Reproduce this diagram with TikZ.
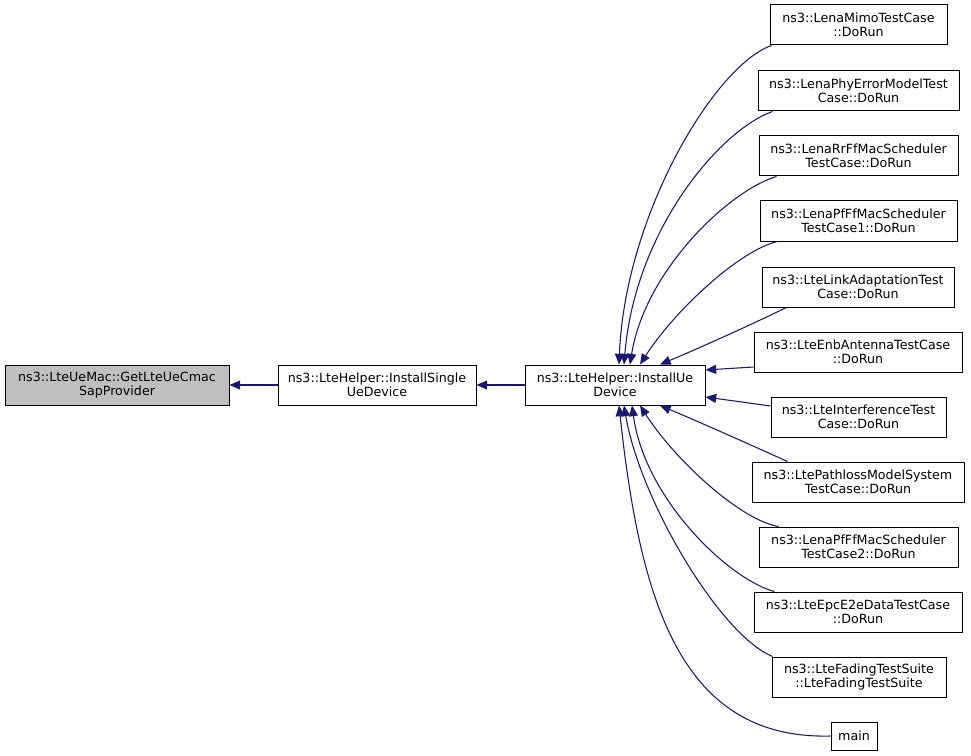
\documentclass[tikz,border=0pt]{standalone}
\usepackage{fontspec}
\setmainfont{DejaVu Sans}
\usetikzlibrary{arrows.meta,calc}
\definecolor{edgeblue}{HTML}{191970}
\definecolor{nodegray}{HTML}{BFBFBF}
\begin{document}
\begin{tikzpicture}[x=0.75pt,y=-0.75pt,
  fn/.style={draw=black,line width=0.75pt,fill=white,rectangle,inner sep=0pt,
    minimum height=30pt,align=center,font=\fontsize{9.5pt}{10.5pt}\selectfont},
  cur/.style={fn,fill=nodegray},
  edge/.style={draw=edgeblue,line width=0.8pt,-{Triangle[length=8pt,width=6.75pt]}}]
\useasboundingbox (0,0) rectangle (971,756);
% nodes
\node[cur,minimum width=168pt] (cmac) at (117,385) {ns3::LteUeMac::GetLteUeCmac\\SapProvider};
\node[fn,minimum width=148.5pt] (single) at (377,385) {ns3::LteHelper::InstallSingle\\UeDevice};
\node[fn,minimum width=135pt] (ue) at (615,385) {ns3::LteHelper::InstallUe\\Device};
\node[fn,minimum width=132.75pt] (mimo) at (858.5,25) {ns3::LenaMimoTestCase\\::DoRun};
\node[fn,minimum width=150.75pt] (phy) at (858.5,91) {ns3::LenaPhyErrorModelTest\\Case::DoRun};
\node[fn,minimum width=149.25pt] (rr) at (858.5,156) {ns3::LenaRrFfMacScheduler\\TestCase::DoRun};
\node[fn,minimum width=147.75pt] (pf1) at (858.5,221) {ns3::LenaPfFfMacScheduler\\TestCase1::DoRun};
\node[fn,minimum width=144pt] (link) at (858,287) {ns3::LteLinkAdaptationTest\\Case::DoRun};
\node[fn,minimum width=156pt] (enb) at (858,352) {ns3::LteEnbAntennaTestCase\\::DoRun};
\node[fn,minimum width=131.25pt] (intf) at (858.5,417) {ns3::LteInterferenceTest\\Case::DoRun};
\node[fn,minimum width=159pt] (path) at (858,482) {ns3::LtePathlossModelSystem\\TestCase::DoRun};
\node[fn,minimum width=149.25pt] (pf2) at (858.5,547) {ns3::LenaPfFfMacScheduler\\TestCase2::DoRun};
\node[fn,minimum width=156pt] (epc) at (858,612) {ns3::LteEpcE2eDataTestCase\\::DoRun};
\node[fn,minimum width=130.5pt] (fad) at (859,677) {ns3::LteFadingTestSuite\\::LteFadingTestSuite};
\node[fn,minimum width=34.5pt,minimum height=21pt] (main) at (854,736) {main};
% edges
\draw[edge] (single.west) -- (cmac.east);
\draw[edge] (ue.west) -- (single.east);
\draw[edge] ($(mimo.south west)+(2,0)$) .. controls (715,65) and (625,215) .. ($(ue.north)+(4,0)$);
\draw[edge] ($(phy.south west)+(15,0)$) .. controls (720,130) and (635,230) .. ($(ue.north)+(9,0)$);
\draw[edge] ($(rr.south west)+(18,0)$) .. controls (730,190) and (645,270) .. ($(ue.north)+(15,0)$);
\draw[edge] ($(pf1.south west)+(18,0)$) .. controls (740,250) and (675,310) .. ($(ue.north)+(25,0)$);
\draw[edge] ($(link.south west)+(25,0)$) .. controls (740,330) and (690,352) .. ($(ue.north)+(45,0)$);
\draw[edge] ($(enb.west)+(0,15)$) -- ($(ue.east)+(0,-15)$);
\draw[edge] ($(intf.west)+(0,-11)$) -- ($(ue.east)+(0,12)$);
\draw[edge] ($(path.north west)+(36,0)$) .. controls (740,440) and (690,418) .. ($(ue.south)+(45,0)$);
\draw[edge] ($(pf2.north west)+(20,0)$) .. controls (740,520) and (675,460) .. ($(ue.south)+(25,0)$);
\draw[edge] ($(epc.north west)+(21,0)$) .. controls (730,580) and (645,500) .. ($(ue.south)+(17,0)$);
\draw[edge] ($(fad.north west)+(1,0)$) .. controls (720,635) and (640,500) .. ($(ue.south)+(9,0)$);
\draw[edge] (main.west) .. controls (680,740) and (640,600) .. ($(ue.south)+(4,0)$);
\end{tikzpicture}
\end{document}
